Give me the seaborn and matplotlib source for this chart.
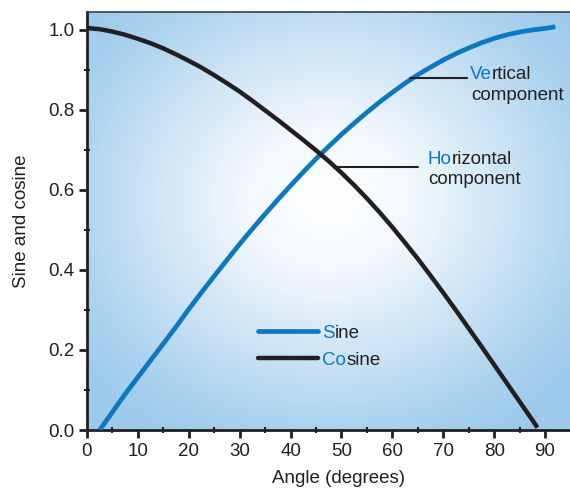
import numpy as np
import seaborn as sns
from matplotlib import pyplot as plt
from matplotlib.colors import LinearSegmentedColormap
from matplotlib.lines import Line2D
from matplotlib.ticker import MultipleLocator

# values
sine_x = [2.5, 5, 7.5, 10, 12.5, 15, 17.5, 20, 22.5, 25, 27.5, 30, 32.5, 35, 37.5,
          40, 42.5, 45, 47.5, 50, 52.5, 55, 57.5, 60, 62.5, 65, 67.5, 70, 72.5,
          75, 77.5, 80, 82.5, 85, 87.5, 90, 92]
sine_y = [0.0, 0.045, 0.09, 0.132, 0.174, 0.216, 0.258, 0.302, 0.344, 0.385, 0.425,
          0.465, 0.503, 0.540, 0.576, 0.611, 0.645, 0.678, 0.709, 0.739, 0.767,
          0.794, 0.820, 0.844, 0.867, 0.888, 0.907, 0.925, 0.941, 0.955, 0.968,
          0.979, 0.988, 0.995, 1.0, 1.004, 1.008]
cosine_x = [0, 2.5, 5, 7.5, 10, 12.5, 15, 17.5, 20, 22.5, 25, 27.5, 30, 32.5, 35,
            37.5, 40, 42.5, 45, 47.5, 50, 52.5, 55, 57.5, 60, 62.5, 65, 67.5, 70,
            72.5, 75, 77.5, 80, 82.5, 85, 87.5, 88.5]
cosine_y = [1.005, 1.002, 0.996, 0.988, 0.978, 0.967, 0.954, 0.939, 0.923, 0.906,
            0.887, 0.867, 0.846, 0.823, 0.799, 0.775, 0.75, 0.725, 0.699, 0.672,
            0.643, 0.612, 0.579, 0.544, 0.507, 0.468, 0.428, 0.386, 0.343, 0.299,
            0.254, 0.209, 0.163, 0.117, 0.071, 0.025, 0.006]
x_ticks = [0, 10, 20, 30, 40, 50, 60, 70, 80, 90]
y_ticks = [0.0, 0.2, 0.4, 0.6, 0.8, 1.0]

BLUE = '#0b78c1'
INK = '#231f20'
FS = 13.5

sns.set_style('ticks')
plt.rcParams['font.family'] = ['Liberation Sans', 'DejaVu Sans']
plt.rcParams['text.color'] = INK
plt.rcParams['axes.labelcolor'] = INK
plt.rcParams['xtick.color'] = INK
plt.rcParams['ytick.color'] = INK


def colored_text(ax, x, y, parts, size=FS):
    prev = None
    for s, c in parts:
        if prev is None:
            prev = ax.text(x, y, s, color=c, fontsize=size, transform=ax.transAxes,
                           ha='left', va='bottom', zorder=5)
        else:
            prev = ax.annotate(s, xy=(1, 0), xycoords=prev, color=c, fontsize=size,
                               ha='left', va='bottom', zorder=5)
    return prev


fig = plt.figure(figsize=(5.7, 4.9), dpi=100)
ax = fig.add_axes([87 / 570, 60 / 490, 483 / 570, 418 / 490])

# radial light-blue background, white in the middle
gx, gy = np.meshgrid(np.linspace(0, 1, 400), np.linspace(0, 1, 400))
r = np.sqrt(((gx - 0.50) / 0.66) ** 2 + ((gy - 0.55) / 0.66) ** 2)
bg_cmap = LinearSegmentedColormap.from_list(
    'bg', [(0, '#ffffff'), (0.25, '#f4f9fd'), (0.55, '#cfe5f5'), (0.8, '#aed4ef'), (1, '#9dcaeb')])
ax.imshow(np.clip(r, 0, 1), cmap=bg_cmap, vmin=0, vmax=1, extent=[0, 1, 0, 1],
          transform=ax.transAxes, aspect='auto', origin='lower', zorder=0,
          interpolation='bilinear')

line_kw = dict(solid_joinstyle='round', solid_capstyle='butt', zorder=3)
sns.lineplot(x=sine_x, y=sine_y, ax=ax, color=BLUE, lw=3.4, **line_kw)
sns.lineplot(x=cosine_x, y=cosine_y, ax=ax, color=INK, lw=3.2, **line_kw)

ax.set_xlim(0, 94.9)
ax.set_ylim(0, 1.045)
ax.set_xticks(x_ticks)
ax.set_yticks(y_ticks)
ax.set_yticklabels([f'{v:.1f}' for v in y_ticks])
ax.xaxis.set_minor_locator(MultipleLocator(5))
ax.yaxis.set_minor_locator(MultipleLocator(0.1))
ax.tick_params(which='major', direction='out', length=6, width=2, labelsize=FS, pad=3)
ax.tick_params(which='minor', direction='inout', length=4, width=1.5)

for side in ['left', 'bottom']:
    ax.spines[side].set_linewidth(2)
    ax.spines[side].set_color(INK)
ax.spines['top'].set_linewidth(1.2)
ax.spines['top'].set_color('#34404c')
ax.spines['right'].set_visible(False)

ax.set_xlabel('Angle (degrees)', fontsize=FS)
ax.set_ylabel('Sine and cosine', fontsize=FS)
ax.xaxis.set_label_coords(0.52, -0.095)
ax.yaxis.set_label_coords(-0.118, 0.5)

# legend drawn by hand so the first letters can be blue
ax.add_line(Line2D([0.354, 0.478], [0.237, 0.237], transform=ax.transAxes,
                   color=BLUE, lw=3.4, zorder=4))
ax.add_line(Line2D([0.354, 0.478], [0.172, 0.172], transform=ax.transAxes,
                   color=INK, lw=3.2, zorder=4))
colored_text(ax, 0.487, 0.210, [('S', BLUE), ('ine', INK)])
colored_text(ax, 0.487, 0.145, [('Co', BLUE), ('sine', INK)])

# component callouts
ax.add_line(Line2D([0.669, 0.787], [0.842, 0.842], transform=ax.transAxes,
                   color=INK, lw=1.5, zorder=4))
colored_text(ax, 0.793, 0.830, [('Ve', BLUE), ('rtical', INK)])
colored_text(ax, 0.795, 0.780, [('component', INK)])

ax.add_line(Line2D([0.518, 0.685], [0.629, 0.629], transform=ax.transAxes,
                   color=INK, lw=1.5, zorder=4))
colored_text(ax, 0.706, 0.627, [('Ho', BLUE), ('rizontal', INK)])
colored_text(ax, 0.706, 0.579, [('component', INK)])

fig.savefig('out.png', dpi=100)
plt.close(fig)
